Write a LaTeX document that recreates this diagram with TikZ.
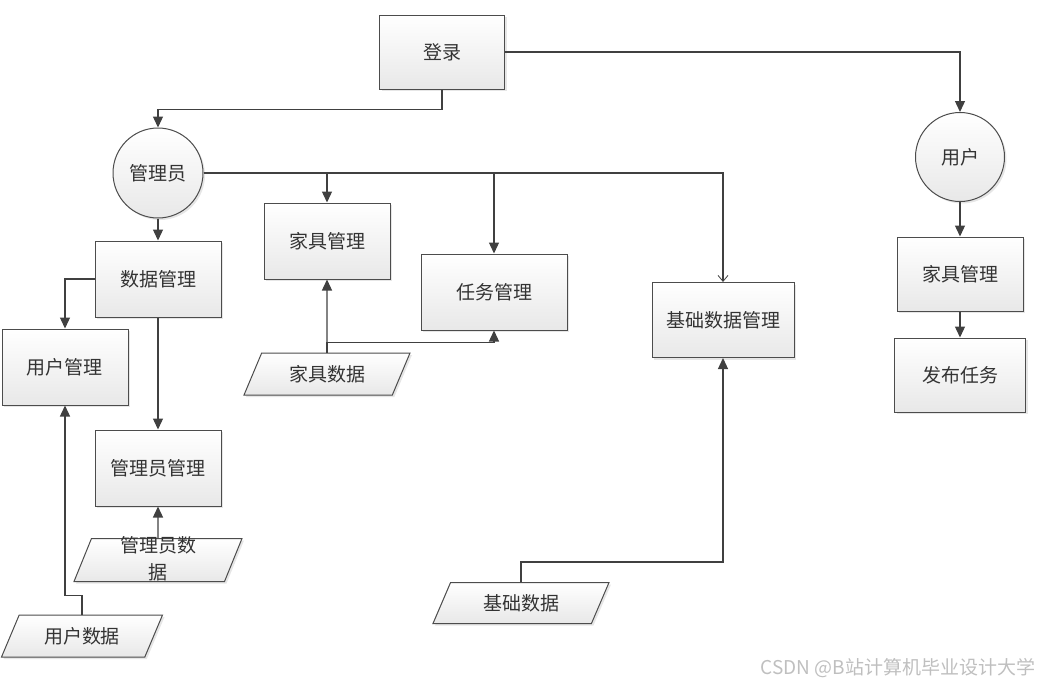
\documentclass[tikz,border=0pt]{standalone}
\usepackage{fontspec}
\setmainfont{Noto Sans CJK SC}
\usepackage{tikz}
\usetikzlibrary{arrows.meta,shapes.geometric,shadows}

\begin{document}
\begin{tikzpicture}[x=1pt,y=-1pt,
	box/.style={draw=black!70, line width=1pt, top color=white, bottom color=black!9,
		drop shadow={opacity=0.2,shadow xshift=2pt,shadow yshift=-2pt},
		minimum width=126pt, minimum height=76pt, inner sep=0pt,
		font=\fontsize{19}{27}\selectfont, text=black!80},
	role/.style={box, circle, minimum size=90pt},
	datain/.style={box, trapezium, trapezium left angle=45, trapezium right angle=135,
		trapezium stretches body, minimum width=168pt, minimum height=43pt},
	arr/.style={draw=black!75, line width=1.3pt, -{Triangle[width=10pt,length=11pt]}},
	openarr/.style={draw=black!75, line width=1.1pt, -{Straight Barb[width=10pt,length=6pt,line width=0.8pt]}}]
		\useasboundingbox (0,0) rectangle (1045,686);
		
		\node[box, minimum width=125pt, minimum height=74pt] (login) at (442,52) {登录};
		\node[role] (admin) at (158,173) {管理员};
		\node[role, minimum size=89pt] (user) at (960,157) {用户};
		
		\node[box] (datamg) at (158,279) {数据管理};
		\node[box] (usermg) at (65,367) {用户管理};
		\node[box] (adminmg) at (158,468) {管理员管理};
		\node[datain] (admindata) at (158,560) {\phantom{据}};
		\node[font=\fontsize{19}{27}\selectfont, text=black!80, align=center] (admindatatext) at (158,559) {管理员数\\据};
		\node[datain, minimum width=161pt, minimum height=42pt] (userdata) at (82,636) {用户数据};
		
		\node[box] (furnmg) at (327,241) {家具管理};
		\node[box, minimum width=146pt] (taskmg) at (494,292) {任务管理};
		\node[box, minimum width=142pt, minimum height=75pt] (basicmg) at (723,320) {基础数据管理};
		\node[datain, minimum width=166pt, minimum height=42pt] (furndata) at (327,374) {家具数据};
		\node[datain, minimum width=176pt, minimum height=41pt] (basicdata) at (521,603) {基础数据};
		
		\node[box, minimum height=74pt] (ufurnmg) at (960,274) {家具管理};
		\node[box, minimum width=131pt, minimum height=74pt] (publish) at (960,375) {发布任务};
		
		\node[text=black!25, font=\fontsize{19}{19}\selectfont] (mark) at (898,668) {CSDN @B站计算机毕业设计大学};
		
		\draw[arr] (login.south) -- ++(0,20) -| (admin.north);
		\draw[arr] (login.east) -| (user.north);
		
		\draw[arr] (admin.south) -- (datamg.north);
		\draw[arr] (datamg.west) -| (usermg.north);
		\draw[arr] (datamg.south) -- (adminmg.north);
		\draw[arr] (admindata.north) -- (adminmg.south);
		\draw[arr] (userdata.north) -- ++(0,-19) -| (usermg.south);
		
		\draw[arr] (admin.east) -| (furnmg.north);
		\draw[arr] (admin.east) -| (taskmg.north);
		\draw[openarr] (admin.east) -| (basicmg.north);
		\draw[arr] (furndata.north) -- (furnmg.south);
		\draw[arr] (furndata.north) -- ++(0,-10) -| (taskmg.south);
		\draw[arr] (basicdata.north) -- ++(0,-20) -| (basicmg.south);
		
		\draw[arr] (user.south) -- (ufurnmg.north);
		\draw[arr] (ufurnmg.south) -- (publish.north);
	\end{tikzpicture}
\end{document}
